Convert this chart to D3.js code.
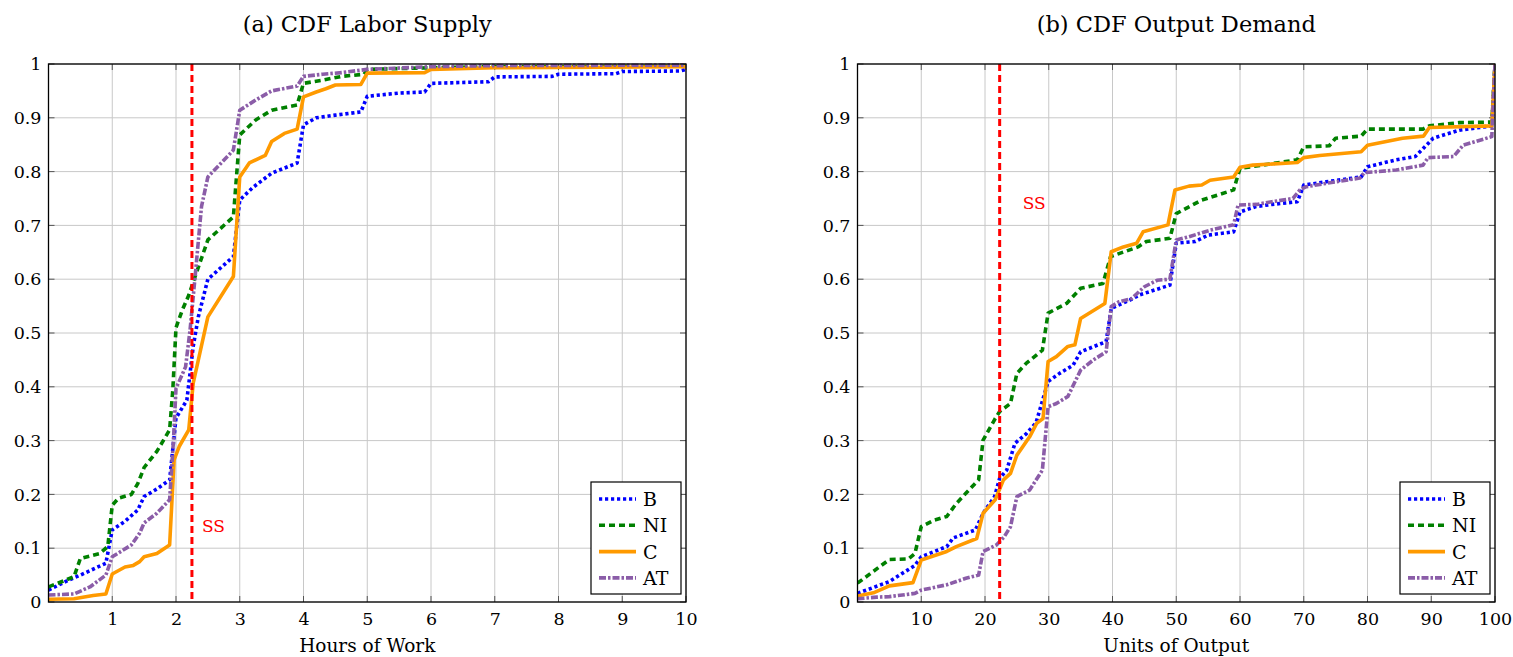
<!DOCTYPE html>
<html>
<head>
<meta charset="utf-8">
<script src="https://cdn.jsdelivr.net/npm/d3@7"></script>
<style>
  html, body { margin: 0; padding: 0; background: #fff; }
  svg { display: block; }
  text { font-family: "DejaVu Serif", "Liberation Serif", serif; fill: #000; }
</style>
</head>
<body>
<svg id="chart" width="1513" height="657"></svg>
<script>
// ---------------- DATA ----------------
const seriesNames = ["B", "NI", "C", "AT"];

const hoursTicks = [1, 2, 3, 4, 5, 6, 7, 8, 9, 10];
const outputTicks = [10, 20, 30, 40, 50, 60, 70, 80, 90, 100];
const cdfTicks = [0, 0.1, 0.2, 0.3, 0.4, 0.5, 0.6, 0.7, 0.8, 0.9, 1];

const ssHours = 2.25;
const ssOutput = 22.3;

// (a) CDF Labor Supply  [hours, cdf]
const laborB = [[0,0.022],[0.3,0.04],[0.5,0.05],[0.9,0.072],[1.0,0.134],[1.2,0.15],[1.4,0.171],[1.5,0.196],[1.7,0.21],[1.9,0.227],[2.0,0.342],[2.17,0.375],[2.27,0.475],[2.35,0.53],[2.5,0.6],[2.9,0.642],[3.0,0.747],[3.2,0.77],[3.5,0.797],[3.9,0.816],[4.0,0.887],[4.2,0.9],[4.5,0.905],[4.9,0.911],[5.0,0.94],[5.5,0.946],[5.9,0.948],[6.0,0.964],[6.9,0.967],[7.0,0.976],[7.9,0.977],[8.0,0.981],[8.9,0.982],[9.0,0.986],[9.9,0.987],[10,0.99]];
const laborNI = [[0,0.028],[0.4,0.047],[0.5,0.081],[0.8,0.09],[0.93,0.103],[1.0,0.18],[1.1,0.193],[1.3,0.2],[1.4,0.22],[1.5,0.25],[1.7,0.28],[1.9,0.32],[1.95,0.394],[2.0,0.51],[2.1,0.543],[2.2,0.57],[2.3,0.605],[2.5,0.673],[2.9,0.716],[3.0,0.868],[3.25,0.896],[3.5,0.914],[3.9,0.924],[4.0,0.964],[4.3,0.97],[4.6,0.977],[4.95,0.981],[5.0,0.99],[6,0.993],[7,0.995],[10,0.996]];
const laborC = [[0,0.005],[0.4,0.006],[0.7,0.012],[0.9,0.015],[1.0,0.052],[1.2,0.065],[1.33,0.068],[1.43,0.075],[1.5,0.084],[1.7,0.09],[1.9,0.106],[1.97,0.264],[2.05,0.289],[2.2,0.32],[2.27,0.407],[2.5,0.53],[2.9,0.605],[3.0,0.79],[3.15,0.816],[3.4,0.83],[3.5,0.856],[3.7,0.871],[3.9,0.879],[4.0,0.939],[4.2,0.948],[4.35,0.954],[4.5,0.961],[4.9,0.962],[5.0,0.983],[5.9,0.984],[6.0,0.99],[7,0.993],[10,0.995]];
const laborAT = [[0,0.013],[0.4,0.015],[0.65,0.028],[0.9,0.05],[1.0,0.084],[1.3,0.106],[1.43,0.128],[1.5,0.147],[1.7,0.165],[1.9,0.19],[1.96,0.3],[2.0,0.397],[2.15,0.437],[2.22,0.505],[2.3,0.605],[2.4,0.735],[2.5,0.79],[2.9,0.84],[3.0,0.914],[3.25,0.933],[3.5,0.95],[3.9,0.959],[4.0,0.977],[4.3,0.981],[4.6,0.984],[5.0,0.99],[6,0.995],[7,0.997],[10,0.998]];

// (b) CDF Output Demand  [units, cdf]
const outputB = [[0,0.016],[5,0.038],[9,0.068],[10,0.084],[14,0.103],[15,0.119],[18.5,0.134],[19.7,0.165],[21.5,0.196],[22.3,0.23],[23.4,0.245],[24.7,0.295],[26.5,0.313],[28,0.333],[29.9,0.41],[31.7,0.425],[33.8,0.44],[35,0.465],[39,0.484],[39.8,0.546],[42.7,0.561],[44.3,0.571],[49,0.589],[50,0.667],[53,0.67],[55,0.682],[59,0.688],[60,0.725],[62.5,0.735],[65,0.739],[69,0.744],[70,0.775],[73.5,0.781],[79,0.79],[80,0.809],[84.5,0.822],[87.5,0.828],[89,0.846],[90.3,0.862],[94.4,0.877],[99.5,0.885],[100,1.0]];
const outputNI = [[0,0.035],[5,0.079],[8,0.08],[9,0.09],[10,0.14],[12,0.152],[14,0.159],[15.5,0.183],[17,0.202],[19,0.227],[19.7,0.301],[21.6,0.341],[22.3,0.354],[24,0.369],[25,0.425],[26.5,0.444],[29,0.468],[29.9,0.537],[32.8,0.555],[35,0.583],[38.5,0.592],[39.7,0.642],[44,0.66],[45.3,0.67],[49,0.676],[50,0.722],[54,0.747],[59,0.766],[60,0.806],[63.5,0.812],[69,0.822],[70,0.846],[74,0.848],[75,0.862],[79,0.866],[80,0.879],[88.7,0.879],[89.7,0.885],[94.4,0.891],[99.5,0.892],[100,1.0]];
const outputC = [[0,0.011],[2.5,0.017],[5,0.03],[8.7,0.036],[10,0.078],[14,0.094],[15.5,0.103],[18.7,0.118],[19.7,0.165],[21.6,0.19],[22.9,0.227],[24,0.239],[25,0.273],[27,0.307],[28.1,0.332],[29.1,0.341],[29.9,0.447],[31.2,0.456],[33,0.475],[34.1,0.478],[35,0.527],[38.8,0.555],[39.8,0.651],[41.7,0.66],[43.8,0.667],[44.8,0.688],[48.7,0.701],[49.8,0.766],[52,0.773],[54,0.775],[55.3,0.784],[59,0.79],[60,0.808],[62,0.812],[69,0.817],[70,0.826],[72.5,0.83],[79,0.837],[80,0.849],[85.5,0.862],[88.8,0.866],[89.7,0.882],[99.5,0.885],[100,1.0]];
const outputAT = [[0,0.006],[3,0.009],[5,0.01],[9,0.016],[10,0.022],[14,0.032],[15.5,0.038],[17,0.044],[19,0.05],[19.7,0.094],[21.8,0.106],[23,0.121],[24,0.14],[25,0.196],[27,0.208],[29,0.245],[29.9,0.363],[31.2,0.369],[33,0.382],[35,0.431],[37,0.45],[39,0.465],[39.8,0.549],[41,0.558],[43,0.564],[45,0.586],[47,0.598],[49,0.6],[50,0.673],[52,0.679],[55.3,0.691],[59,0.701],[59.7,0.738],[62.6,0.739],[65,0.744],[68.3,0.75],[69.4,0.766],[70.4,0.772],[75,0.781],[78.8,0.788],[79.5,0.798],[84.5,0.803],[88.7,0.812],[89.5,0.826],[93.5,0.828],[95,0.849],[99.5,0.865],[100,1.0]];

// ---------------- STYLE ----------------
const styles = {
  B:  { color: "#0000FF", dash: "3.2,2.8", width: 3.6 },
  NI: { color: "#008000", dash: "6,4",     width: 3.6 },
  C:  { color: "#FF9A00", dash: null,      width: 3.6 },
  AT: { color: "#8B5DA8", dash: "7,2,2.5,2", width: 3.6 }
};

const svg = d3.select("#chart");
const plotTop = 64, plotBottom = 602;

function panel(opts) {
  const x = d3.scaleLinear().domain(opts.xDomain).range([opts.left, opts.right]);
  const y = d3.scaleLinear().domain([0, 1]).range([plotBottom, plotTop]);
  const g = svg.append("g");

  // grid
  g.append("g").selectAll("line").data(opts.xTicks).join("line")
    .attr("x1", d => x(d)).attr("x2", d => x(d))
    .attr("y1", plotTop).attr("y2", plotBottom)
    .attr("stroke", "#c8c8c8").attr("stroke-width", 1);
  g.append("g").selectAll("line").data(cdfTicks).join("line")
    .attr("x1", opts.left).attr("x2", opts.right)
    .attr("y1", d => y(d)).attr("y2", d => y(d))
    .attr("stroke", "#c8c8c8").attr("stroke-width", 1);

  // inner tick marks
  const tl = 6;
  const tg = g.append("g").attr("stroke", "#555").attr("stroke-width", 1);
  opts.xTicks.forEach(d => {
    tg.append("line").attr("x1", x(d)).attr("x2", x(d)).attr("y1", plotBottom).attr("y2", plotBottom - tl);
    tg.append("line").attr("x1", x(d)).attr("x2", x(d)).attr("y1", plotTop).attr("y2", plotTop + tl);
  });
  cdfTicks.forEach(d => {
    tg.append("line").attr("x1", opts.left).attr("x2", opts.left + tl).attr("y1", y(d)).attr("y2", y(d));
    tg.append("line").attr("x1", opts.right).attr("x2", opts.right - tl).attr("y1", y(d)).attr("y2", y(d));
  });

  // axes labels via d3 axis (ticks hidden, labels used)
  const xAxis = d3.axisBottom(x).tickValues(opts.xTicks).tickSize(0).tickPadding(11).tickFormat(d3.format("d"));
  const xa = g.append("g").attr("transform", `translate(0,${plotBottom})`).call(xAxis);
  xa.select(".domain").remove();
  xa.selectAll("text").style("font-family", '"DejaVu Serif", serif').style("font-size", "17.5px").attr("fill", "#000");

  const yAxis = d3.axisLeft(y).tickValues(cdfTicks).tickSize(0).tickPadding(7)
    .tickFormat(d => (d === 0 || d === 1) ? String(d) : d3.format(".1f")(d));
  const ya = g.append("g").attr("transform", `translate(${opts.left},0)`).call(yAxis);
  ya.select(".domain").remove();
  ya.selectAll("text").style("font-family", '"DejaVu Serif", serif').style("font-size", "17.5px").attr("fill", "#000");

  // clip
  const clipId = "clip" + opts.id;
  svg.append("defs").append("clipPath").attr("id", clipId)
    .append("rect").attr("x", opts.left).attr("y", plotTop - 2).attr("width", opts.right - opts.left).attr("height", plotBottom - plotTop + 4);

  const line = d3.line().x(d => x(d[0])).y(d => y(d[1]));
  const lg = g.append("g").attr("clip-path", `url(#${clipId})`);
  seriesNames.forEach((name, i) => {
    const s = styles[name];
    lg.append("path").datum(opts.data[i])
      .attr("d", line)
      .attr("fill", "none")
      .attr("stroke", s.color)
      .attr("stroke-width", s.width)
      .attr("stroke-linejoin", "round")
      .attr("stroke-dasharray", s.dash);
  });

  // SS line
  g.append("line")
    .attr("x1", x(opts.ss)).attr("x2", x(opts.ss))
    .attr("y1", plotTop).attr("y2", plotBottom)
    .attr("stroke", "#FF0000").attr("stroke-width", 3).attr("stroke-dasharray", "7,4");
  g.append("text")
    .attr("x", x(opts.ss) + opts.ssDx).attr("y", y(opts.ssY))
    .style("fill", "#FF0000")
    .style("font-size", "17px")
    .text("SS");

  // frame
  g.append("rect").attr("x", opts.left).attr("y", plotTop)
    .attr("width", opts.right - opts.left).attr("height", plotBottom - plotTop)
    .attr("fill", "none").attr("stroke", "#000").attr("stroke-width", 1.3);

  // title
  g.append("text").attr("x", (opts.left + opts.right) / 2).attr("y", 32)
    .attr("text-anchor", "middle").style("font-size", "22.5px").text(opts.title);
  // x label
  g.append("text").attr("x", (opts.left + opts.right) / 2).attr("y", 652)
    .attr("text-anchor", "middle").style("font-size", "18.5px").text(opts.xLabel);

  // legend
  const lw = 90, lh = 112;
  const lx = opts.right - 5 - lw, ly = plotBottom - 8 - lh;
  const leg = g.append("g").attr("transform", `translate(${lx},${ly})`);
  leg.append("rect").attr("width", lw).attr("height", lh).attr("fill", "#fff").attr("stroke", "#000").attr("stroke-width", 1.2);
  seriesNames.forEach((name, i) => {
    const s = styles[name];
    const cy = 17 + i * 26.3;
    leg.append("line").attr("x1", 8).attr("x2", 45).attr("y1", cy).attr("y2", cy)
      .attr("stroke", s.color).attr("stroke-width", s.width).attr("stroke-dasharray", s.dash);
    leg.append("text").attr("x", 52).attr("y", cy + 7).style("font-size", "19px").text(name);
  });
}

panel({
  id: "a", left: 48.5, right: 686, xDomain: [0, 10], xTicks: hoursTicks,
  data: [laborB, laborNI, laborC, laborAT],
  ss: ssHours, ssDx: 10, ssY: 0.13,
  title: "(a) CDF Labor Supply", xLabel: "Hours of Work"
});
panel({
  id: "b", left: 857.5, right: 1495, xDomain: [0, 100], xTicks: outputTicks,
  data: [outputB, outputNI, outputC, outputAT],
  ss: ssOutput, ssDx: 23, ssY: 0.73,
  title: "(b) CDF Output Demand", xLabel: "Units of Output"
});
</script>
</body>
</html>
